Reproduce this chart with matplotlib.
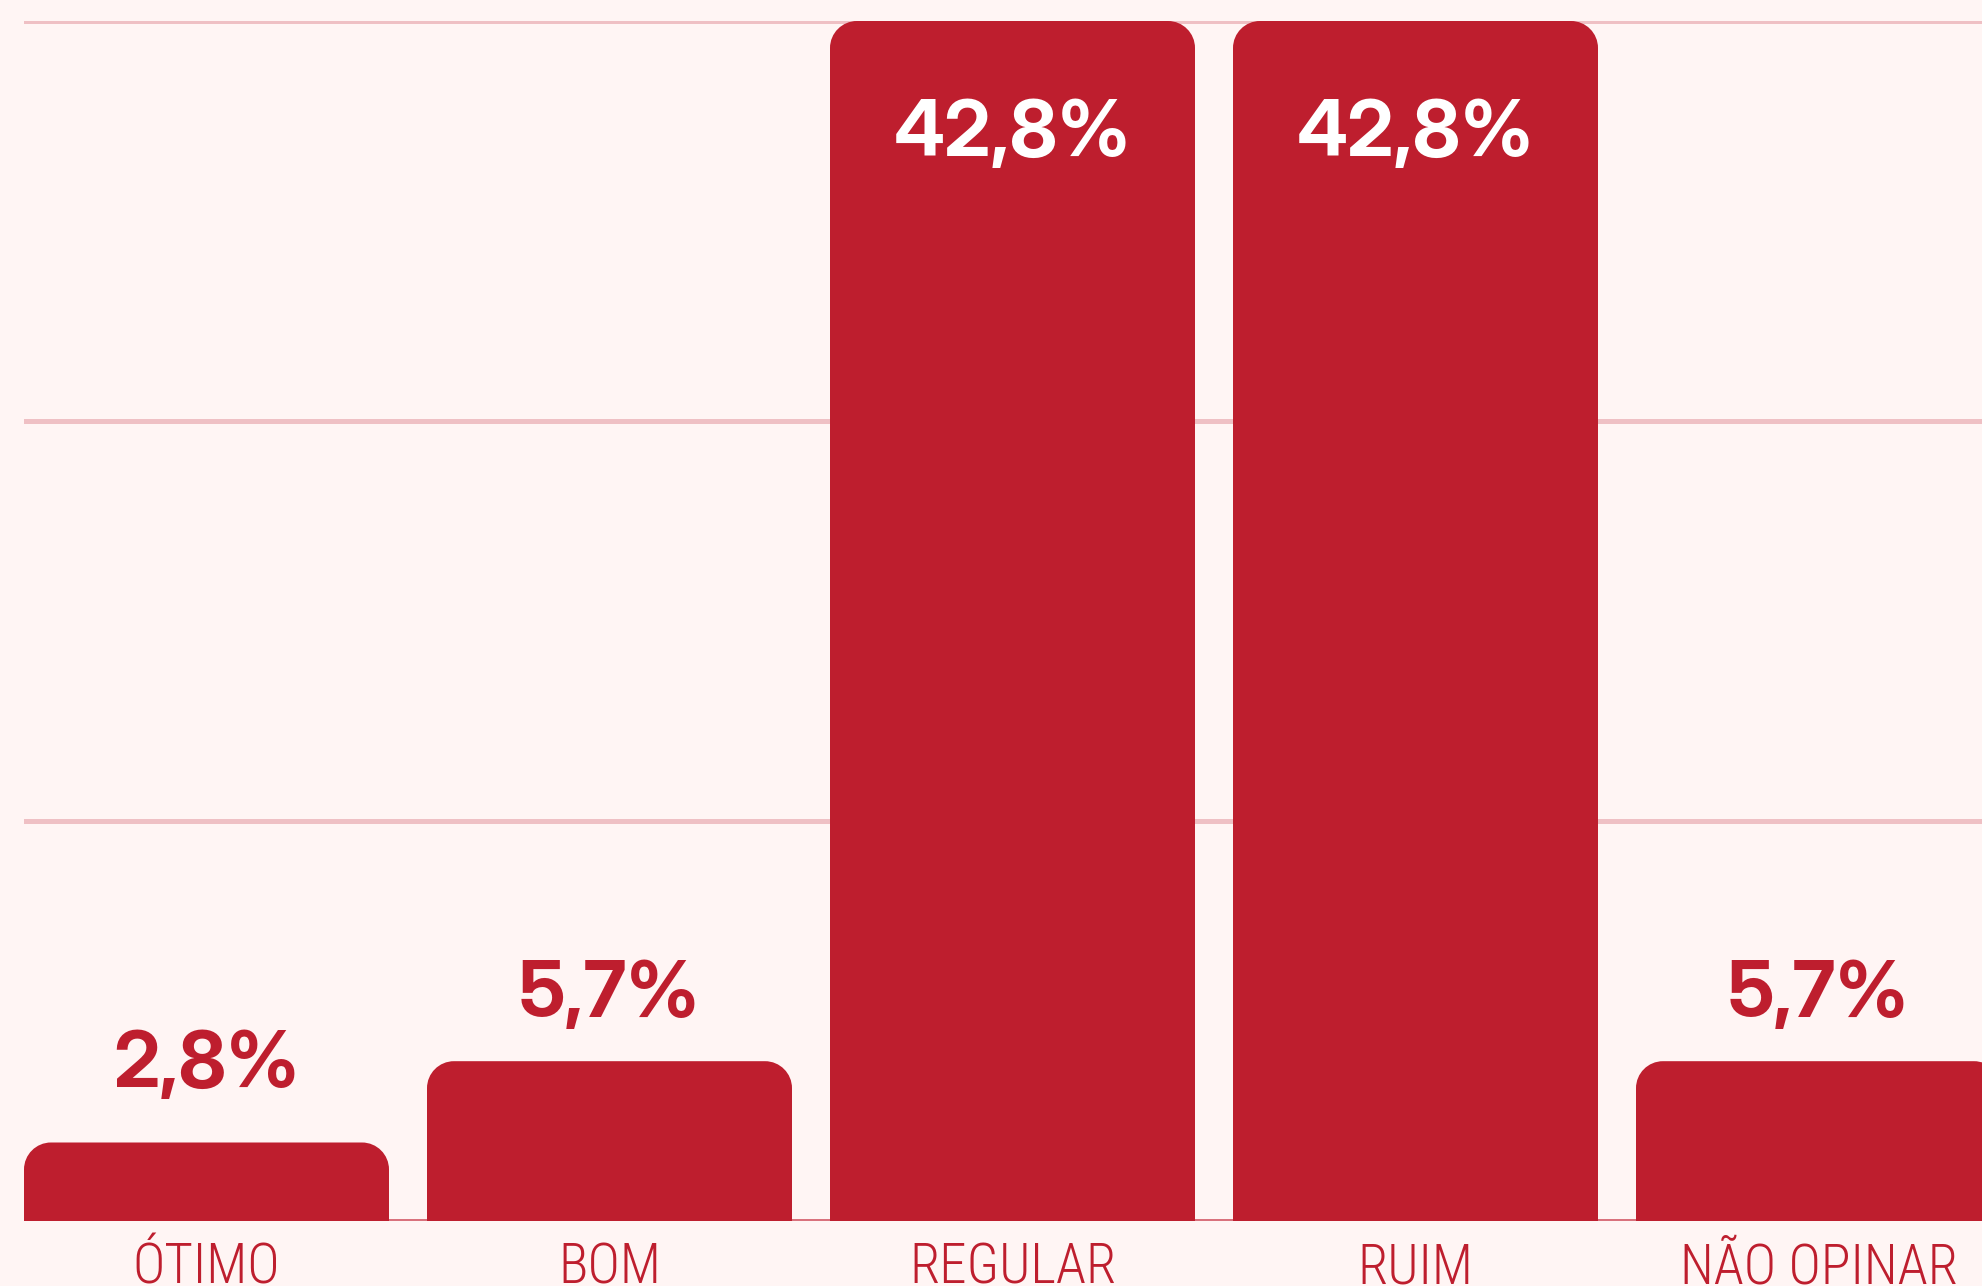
import numpy as np
import matplotlib
matplotlib.use("Agg")
from matplotlib import pyplot as plt
from matplotlib import font_manager as fm
from matplotlib.path import Path
from matplotlib.patches import PathPatch

# Dados
categorias = ["ÓTIMO", "BOM", "REGULAR", "RUIM", "NÃO OPINAR"]
valores = [2.8, 5.7, 42.8, 42.8, 5.7]
rotulos = ["2,8%", "5,7%", "42,8%", "42,8%", "5,7%"]
dentro = [False, False, True, True, False]

fundo = "#FFF5F4"
vermelho = "#BE1E2E"
grade = "#EFC0C4"
base = "#D9727D"


def fonte(arquivos, reserva):
    for arq in arquivos:
        for f in fm.fontManager.ttflist:
            if f.fname.endswith("/" + arq):
                return fm.FontProperties(fname=f.fname)
    return fm.FontProperties(family=reserva[0], weight=reserva[1])


f_valor = fonte(["InterDisplay-Bold.otf", "Inter-Bold.otf"], ("Inter", "bold"))
f_cat = fonte(["RobotoCondensed-Light.ttf"], ("Roboto Condensed", "light"))

W, H = 1982, 1286
fig = plt.figure(figsize=(W / 100, H / 100), dpi=100, facecolor=fundo)

# eixo: começa em x=24px, passa da borda direita
passo = 403.0
larg = 365.0
x0 = 24.0
ymax = max(valores)
y_base, y_top = 1221.0, 21.0
ax = fig.add_axes([x0 / W, (H - y_base) / H, 5 * passo / W, (y_base - y_top) / H])
ax.set_facecolor(fundo)
ax.set_xlim(-larg / passo / 2, 4 + larg / passo / 2 + (passo - larg) / passo)
ax.set_ylim(0, ymax)
for s in ax.spines.values():
    s.set_visible(False)

# grade
for v in np.linspace(0, ymax, 4)[1:]:
    ax.axhline(v, color=grade, lw=3.6, zorder=0)
ax.axhline(0, color=base, lw=3.6, zorder=1)

x = np.arange(len(categorias))
barras = ax.bar(x, valores, width=larg / passo, color=vermelho, zorder=2)

# cantos superiores arredondados
px_x = passo  # pixels por unidade em x
px_y = (y_base - y_top) / ymax
r = 27.0
k = 0.5523
for b in barras:
    bx, by = b.get_x(), b.get_y()
    bw, bh = b.get_width(), b.get_height()
    rx, ry = r / px_x, r / px_y
    verts = [
        (bx, by),
        (bx, by + bh - ry),
        (bx, by + bh - ry + k * ry), (bx + rx - k * rx, by + bh), (bx + rx, by + bh),
        (bx + bw - rx, by + bh),
        (bx + bw - rx + k * rx, by + bh), (bx + bw, by + bh - ry + k * ry), (bx + bw, by + bh - ry),
        (bx + bw, by),
        (bx, by),
    ]
    codes = [Path.MOVETO, Path.LINETO,
             Path.CURVE4, Path.CURVE4, Path.CURVE4,
             Path.LINETO,
             Path.CURVE4, Path.CURVE4, Path.CURVE4,
             Path.LINETO, Path.CLOSEPOLY]
    b.set_visible(False)
    ax.add_patch(PathPatch(Path(verts, codes), facecolor=vermelho, edgecolor="none", zorder=2))

# rótulos de valor
for xi, v, t, d in zip(x, valores, rotulos, dentro):
    if d:
        ax.annotate(t, (xi, v), xytext=(0, -135 * 0.72), textcoords="offset points",
                    ha="center", va="baseline", color="white", fontproperties=f_valor,
                    fontsize=56, zorder=3)
    else:
        ax.text(xi, v * 0.86 + 2.37, t, ha="center", va="baseline", color=vermelho,
                fontproperties=f_valor, fontsize=56, zorder=3)

ax.set_yticks([])
ax.set_xticks(x)
ax.set_xticklabels(categorias, color=vermelho, fontproperties=f_cat)
for lb in ax.get_xticklabels():
    lb.set_fontsize(39.5)
ax.tick_params(axis="x", length=0, pad=15)

fig.savefig("out.png", dpi=100, facecolor=fundo)
